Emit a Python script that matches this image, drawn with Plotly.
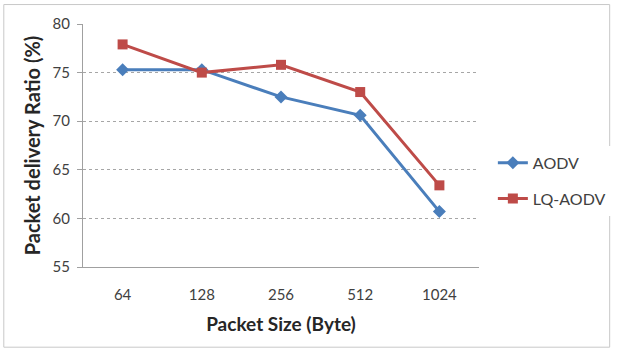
import plotly.graph_objects as go

categories = ["64", "128", "256", "512", "1024"]
aodv = [75.3, 75.3, 72.5, 70.6, 60.7]
lq_aodv = [77.9, 75.0, 75.8, 73.0, 63.4]
y_ticks = [55, 60, 65, 70, 75, 80]

FONT = "Lato, Liberation Sans, Arial, sans-serif"

fig = go.Figure()
fig.add_trace(go.Scatter(x=categories, y=aodv, name="AODV", mode="lines+markers",
                         legendgroup="a",
                         line=dict(color="#4A7EBB", width=3),
                         marker=dict(symbol="diamond", size=10, color="#4A7EBB")))
fig.add_trace(go.Scatter(x=categories, y=lq_aodv, name="LQ-AODV", mode="lines+markers",
                         legendgroup="b",
                         line=dict(color="#BE4B48", width=3),
                         marker=dict(symbol="square", size=10, color="#BE4B48")))

fig.update_layout(
    width=618, height=354,
    margin=dict(l=83, r=139, t=24, b=87, autoexpand=False),
    paper_bgcolor="white", plot_bgcolor="white",
    font=dict(family=FONT, color="#404040", size=15),
    xaxis=dict(type="category", range=[-0.5, 4.5], showgrid=False,
               showline=True, linecolor="#A0A0A0", linewidth=1,
               ticks="", ticklabelstandoff=14,
               title=dict(text="<b>Packet Size (Byte)</b>", font=dict(size=19, color="#262626"), standoff=15)),
    yaxis=dict(range=[55, 80], tickvals=y_ticks, showgrid=True,
               gridcolor="#A6A6A6", griddash="dot", gridwidth=1,
               showline=True, linecolor="#A0A0A0", linewidth=1,
               ticks="outside", ticklen=5, tickcolor="#A0A0A0",
               ticklabelstandoff=4,
               zeroline=False,
               title=dict(text="<b>Packet delivery Ratio (%)</b>", font=dict(size=20, color="#262626"), standoff=6)),
    legend=dict(x=1.035, y=0.355, xanchor="left", yanchor="middle",
                font=dict(size=16), tracegroupgap=12, itemwidth=30),
    shapes=[dict(type="rect", xref="paper", yref="paper", x0=-0.2, x1=1.33, y0=-0.33, y1=1.08,
                 line=dict(color="#C8C8C8", width=1))],
)

fig.write_html("out.html")
